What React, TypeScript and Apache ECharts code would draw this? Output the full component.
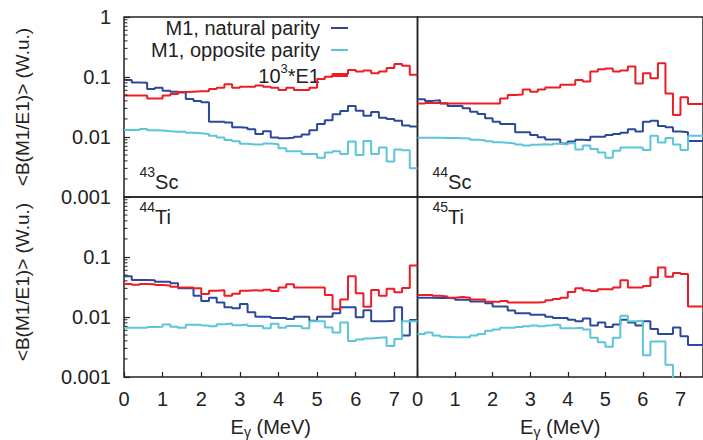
import React, { useEffect, useRef } from 'react';
import * as echarts from 'echarts';

const FONT = '"Liberation Sans", Arial, Helvetica, sans-serif';
const INK = '#222222';

// Histogram bins: 0.2 MeV wide, starting at 0 MeV
const BIN_WIDTH = 0.2;
const X_MAX = 7.6;

const xTickLabels = ['0', '1', '2', '3', '4', '5', '6', '7'];
const yTickLabels = ['0.001', '0.01', '0.1', '1'];
const yMinorTickValues = [
  0.002, 0.003, 0.004, 0.005, 0.006, 0.007, 0.008, 0.009,
  0.02, 0.03, 0.04, 0.05, 0.06, 0.07, 0.08, 0.09,
  0.2, 0.3, 0.4, 0.5, 0.6, 0.7, 0.8, 0.9,
];

const seriesNames = ['M1, natural parity', 'M1, opposite parity', '10^3*E1'];
const seriesColors = ['#2c489c', '#5cc5da', '#ee1d25'];

const panelMass = ['43', '44', '44', '45'];
const panelElement = ['Sc', 'Sc', 'Ti', 'Ti'];

const yAxisTitle = '<B(M1/E1)> (W.u.)';

// ---- 43Sc ----
const sc43Natural = [0.089, 0.081, 0.080, 0.063, 0.066, 0.059, 0.057, 0.055, 0.043, 0.040, 0.038, 0.018, 0.018, 0.0175, 0.0145, 0.0143, 0.0135, 0.0112, 0.0125, 0.0098, 0.0095, 0.0097, 0.0101, 0.011, 0.013, 0.0165, 0.019, 0.024, 0.027, 0.033, 0.0275, 0.0227, 0.026, 0.021, 0.020, 0.0187, 0.0155, 0.015];
const sc43Opposite = [0.0131, 0.0131, 0.0136, 0.013, 0.0128, 0.0125, 0.0122, 0.0122, 0.0118, 0.0115, 0.0112, 0.0105, 0.0098, 0.0089, 0.0085, 0.0077, 0.0075, 0.0075, 0.0078, 0.0076, 0.0065, 0.0058, 0.0058, 0.0052, 0.0052, 0.0045, 0.0055, 0.0058, 0.0052, 0.0084, 0.005, 0.0086, 0.0052, 0.0067, 0.0039, 0.0062, 0.0060, 0.0030];
const sc43E1 = [0.049, 0.049, 0.049, 0.044, 0.044, 0.049, 0.052, 0.056, 0.057, 0.058, 0.058, 0.063, 0.066, 0.076, 0.066, 0.069, 0.069, 0.072, 0.069, 0.066, 0.061, 0.066, 0.061, 0.061, 0.066, 0.093, 0.101, 0.112, 0.112, 0.131, 0.124, 0.128, 0.115, 0.124, 0.141, 0.165, 0.154, 0.109];

// ---- 44Sc ----
const sc44Natural = [0.0425, 0.040, 0.041, 0.0364, 0.0329, 0.0329, 0.030, 0.0264, 0.0242, 0.0205, 0.018, 0.0165, 0.0165, 0.012, 0.012, 0.0108, 0.0099, 0.0091, 0.0091, 0.0078, 0.0084, 0.009, 0.0088, 0.0101, 0.0101, 0.0108, 0.0112, 0.0118, 0.0134, 0.0123, 0.018, 0.0187, 0.0153, 0.0146, 0.0123, 0.012, 0.0086, 0.0086];
const sc44Opposite = [0.0097, 0.0097, 0.0097, 0.0096, 0.0096, 0.0095, 0.0094, 0.009, 0.0088, 0.0085, 0.0082, 0.008, 0.0078, 0.0075, 0.0072, 0.0074, 0.0076, 0.0074, 0.0077, 0.0075, 0.0079, 0.0062, 0.0072, 0.0063, 0.0055, 0.0045, 0.0059, 0.0067, 0.0067, 0.0067, 0.0061, 0.0105, 0.0081, 0.0096, 0.0075, 0.0061, 0.0105, 0.0105];
const sc44E1 = [0.036, 0.037, 0.037, 0.036, 0.036, 0.036, 0.036, 0.036, 0.036, 0.036, 0.036, 0.044, 0.05, 0.051, 0.062, 0.057, 0.062, 0.067, 0.067, 0.074, 0.074, 0.089, 0.084, 0.123, 0.134, 0.139, 0.123, 0.128, 0.149, 0.078, 0.115, 0.095, 0.169, 0.053, 0.0233, 0.046, 0.0355, 0.0355];

// ---- 44Ti ----
const ti44Natural = [0.048, 0.0415, 0.0415, 0.041, 0.0388, 0.0385, 0.0365, 0.030, 0.030, 0.0225, 0.0185, 0.021, 0.0175, 0.0145, 0.014, 0.0165, 0.012, 0.0101, 0.0101, 0.0096, 0.0096, 0.0093, 0.0101, 0.0101, 0.0087, 0.0101, 0.0101, 0.0115, 0.0145, 0.0145, 0.0099, 0.013, 0.0085, 0.0085, 0.0087, 0.0145, 0.0049, 0.0089];
const ti44Opposite = [0.0066, 0.0066, 0.0066, 0.0068, 0.0069, 0.0075, 0.0069, 0.0066, 0.0074, 0.0074, 0.0072, 0.007, 0.0076, 0.0078, 0.0073, 0.0075, 0.0071, 0.0071, 0.0065, 0.0077, 0.0066, 0.0071, 0.0071, 0.0065, 0.0085, 0.0085, 0.0067, 0.0055, 0.0081, 0.0040, 0.0042, 0.0044, 0.0045, 0.0046, 0.0033, 0.0043, 0.0085, 0.0085];
const ti44E1 = [0.0355, 0.0345, 0.0355, 0.035, 0.034, 0.0335, 0.032, 0.031, 0.031, 0.030, 0.0242, 0.0275, 0.028, 0.0225, 0.0245, 0.0275, 0.028, 0.0275, 0.0285, 0.027, 0.031, 0.035, 0.031, 0.031, 0.031, 0.031, 0.0232, 0.0135, 0.0195, 0.048, 0.0248, 0.0148, 0.0282, 0.0227, 0.0296, 0.0258, 0.0304, 0.072];

// ---- 45Ti ----
const ti45Natural = [0.021, 0.021, 0.0207, 0.0207, 0.0205, 0.0194, 0.0194, 0.0182, 0.0182, 0.0169, 0.0149, 0.0149, 0.0128, 0.0115, 0.0115, 0.0109, 0.0109, 0.0101, 0.0096, 0.0096, 0.009, 0.0085, 0.0094, 0.0072, 0.0081, 0.0068, 0.0075, 0.009, 0.0081, 0.0072, 0.0085, 0.0063, 0.0052, 0.0052, 0.0067, 0.0048, 0.0034, 0.0034];
const ti45Opposite = [0.0052, 0.0055, 0.0049, 0.0047, 0.0046, 0.0046, 0.0046, 0.0049, 0.0052, 0.0059, 0.0062, 0.0066, 0.0066, 0.0068, 0.007, 0.0072, 0.007, 0.0072, 0.0074, 0.0065, 0.0065, 0.0066, 0.0062, 0.0045, 0.0038, 0.0032, 0.0045, 0.0105, 0.0085, 0.0087, 0.0023, 0.0039, 0.0039, 0.0016, 0.0002, 0.0002, 0.0002, 0.0002];
const ti45E1 = [0.0233, 0.0233, 0.0225, 0.022, 0.021, 0.0215, 0.021, 0.0195, 0.0195, 0.018, 0.018, 0.0185, 0.0175, 0.0175, 0.0175, 0.0175, 0.0178, 0.019, 0.020, 0.021, 0.0262, 0.030, 0.028, 0.027, 0.029, 0.029, 0.031, 0.041, 0.031, 0.031, 0.033, 0.046, 0.067, 0.047, 0.054, 0.052, 0.0149, 0.015];

const panelData = [
  [sc43Natural, sc43Opposite, sc43E1],
  [sc44Natural, sc44Opposite, sc44E1],
  [ti44Natural, ti44Opposite, ti44E1],
  [ti45Natural, ti45Opposite, ti45E1],
];

// Layout (pixels)
const LEFT_X = 124;
const MID_X = 417.5;
const TOP_Y = 17;
const PANEL_W = 293.5;
const PANEL_H = 180;

function toSteps(vals: number[]): [number, number][] {
  const pts: [number, number][] = vals.map((v, i) => [+(i * BIN_WIDTH).toFixed(2), v]);
  pts.push([+(vals.length * BIN_WIDTH).toFixed(2), vals[vals.length - 1]]);
  return pts;
}

function buildOption(): echarts.EChartsOption {
  const grids: any[] = [];
  const xAxes: any[] = [];
  const yAxes: any[] = [];
  const series: any[] = [];
  const graphics: any[] = [];

  for (let p = 0; p < 4; p++) {
    const isLeft = p % 2 === 0;
    const isBottom = p >= 2;
    grids.push({
      left: isLeft ? LEFT_X : MID_X,
      top: isBottom ? TOP_Y + PANEL_H : TOP_Y,
      width: PANEL_W,
      height: PANEL_H,
      show: true,
      borderColor: INK,
      borderWidth: 1.5,
      backgroundColor: 'transparent',
      containLabel: false,
    });
    xAxes.push({
      type: 'value',
      gridIndex: p,
      min: 0,
      max: X_MAX,
      interval: 1,
      axisLine: { show: false },
      splitLine: { show: false },
      axisTick: isBottom
        ? { show: true, inside: true, length: 5, lineStyle: { color: INK, width: 1.2 } }
        : { show: false },
      axisLabel: isBottom
        ? {
            show: true,
            margin: 12,
            fontSize: 20,
            color: INK,
            fontFamily: FONT,
            showMaxLabel: false,
            formatter: (v: number) => xTickLabels[Math.round(v)] ?? '',
          }
        : { show: false },
      name: isBottom ? '{e|E}{g|γ}{e| (MeV)}' : '',
      nameLocation: 'middle',
      nameGap: 37.5,
      nameTextStyle: {
        fontSize: 20,
        color: INK,
        fontFamily: FONT,
        rich: {
          e: { fontSize: 20, lineHeight: 24, color: INK, fontFamily: FONT },
          g: { fontSize: 14, lineHeight: 14, verticalAlign: 'bottom', color: INK, fontFamily: FONT },
        },
      },
    });
    yAxes.push({
      type: 'log',
      logBase: 10,
      gridIndex: p,
      min: 0.001,
      max: 1,
      axisLine: { show: false },
      splitLine: { show: false },
      minorTick: { show: false },
      axisTick: isLeft
        ? { show: true, inside: true, length: 6, lineStyle: { color: INK, width: 1.2 } }
        : { show: false },
      axisLabel: isLeft
        ? {
            show: true,
            margin: 13,
            fontSize: 20,
            color: INK,
            fontFamily: FONT,
            showMaxLabel: !isBottom,
            formatter: (v: number) => yTickLabels[Math.round(Math.log10(v)) + 3] ?? '',
          }
        : { show: false },
      name: isLeft ? yAxisTitle : '',
      nameLocation: 'middle',
      nameRotate: 90,
      nameGap: 92,
      nameTextStyle: { fontSize: 19, color: INK, fontFamily: FONT, padding: isBottom ? [0, 0, 0, 10] : 0 },
    });

    const vals = panelData[p];
    for (let s = 0; s < 3; s++) {
      series.push({
        type: 'line',
        name: seriesNames[s],
        xAxisIndex: p,
        yAxisIndex: p,
        data: toSteps(vals[s]),
        step: 'end',
        symbol: 'none',
        showSymbol: false,
        clip: true,
        silent: true,
        color: seriesColors[s],
        itemStyle: { color: seriesColors[s] },
        lineStyle: { color: seriesColors[s], width: 2 },
        z: 2 + s,
      });
    }

    if (isLeft) {
      series.push({
        type: 'custom',
        xAxisIndex: p,
        yAxisIndex: p,
        silent: true,
        z: 6,
        data: yMinorTickValues.map((v) => [0, v]),
        renderItem: (_params: any, api: any) => {
          const pt = api.coord([0, api.value(1)]);
          return {
            type: 'line',
            shape: { x1: pt[0], y1: pt[1], x2: pt[0] + 3.5, y2: pt[1] },
            style: { stroke: INK, lineWidth: 1 },
          };
        },
      });
    }

    graphics.push({
      type: 'text',
      x: isLeft ? 139.5 : 432.5,
      y: isBottom ? 199.7 : 165.3,
      silent: true,
      style: {
        text: `{m|${panelMass[p]}}{e|${panelElement[p]}}`,
        align: 'left',
        verticalAlign: 'top',
        fill: INK,
        rich: {
          m: { fontSize: 14, lineHeight: 14, verticalAlign: 'top', fill: INK, fontFamily: FONT },
          e: { fontSize: 20, lineHeight: 34, fill: INK, fontFamily: FONT },
        },
      },
    });
  }

  return {
    animation: false,
    backgroundColor: '#ffffff',
    textStyle: { fontFamily: FONT },
    grid: grids,
    xAxis: xAxes,
    yAxis: yAxes,
    legend: {
      data: seriesNames,
      orient: 'vertical',
      right: 355,
      top: 18,
      align: 'right',
      itemGap: 2,
      itemWidth: 17,
      itemHeight: 2,
      icon: 'rect',
      padding: 0,
      selectedMode: false,
      itemStyle: { borderWidth: 0 },
      formatter: (name: string) => (name === seriesNames[2] ? '{n|10}{s|3}{n|*E1}' : name),
      textStyle: {
        fontSize: 20,
        color: INK,
        fontFamily: FONT,
        padding: [0, 6, 0, 0],
        rich: {
          n: { fontSize: 20, lineHeight: 28, color: INK, fontFamily: FONT },
          s: { fontSize: 13, lineHeight: 16, verticalAlign: 'top', color: INK, fontFamily: FONT },
        },
      },
    },
    graphic: graphics,
    series,
  } as any;
}

export default function App() {
  const ref = useRef<HTMLDivElement>(null);
  useEffect(() => {
    document.body.style.margin = '0';
    if (!ref.current) return;
    const chart = echarts.init(ref.current, undefined, { renderer: 'svg' });
    chart.setOption(buildOption());
    return () => chart.dispose();
  }, []);
  return <div ref={ref} style={{ width: 703, height: 440, background: '#fff' }} />;
}
